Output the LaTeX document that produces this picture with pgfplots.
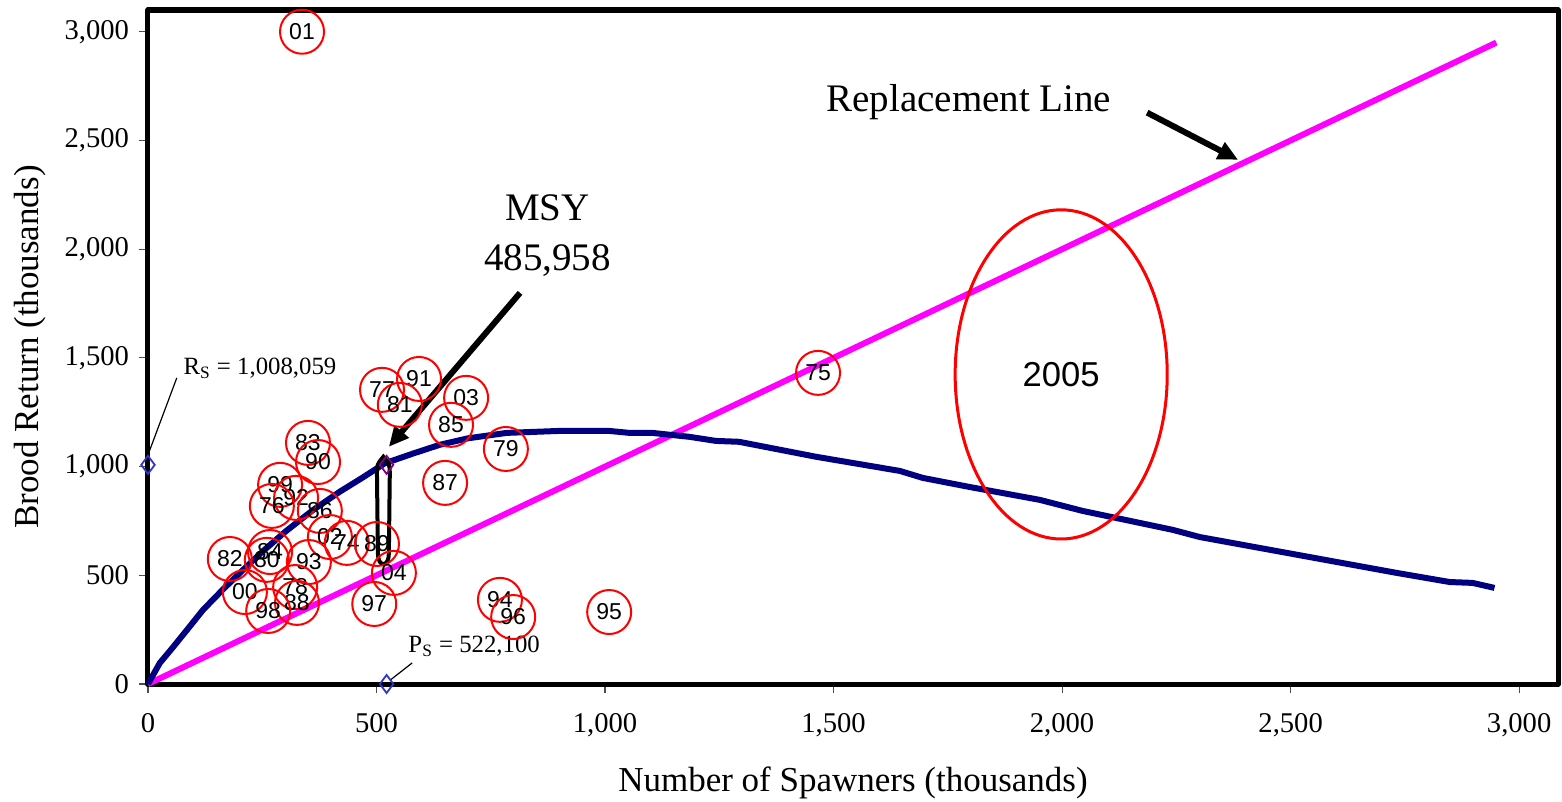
\documentclass[border=0pt]{standalone}
\usepackage{pgfplots}
\pgfplotsset{compat=1.18}
\usepackage{fontspec}
\setmainfont{Liberation Serif}
\newfontfamily\arial{Liberation Sans}
\usetikzlibrary{arrows.meta}
\definecolor{navyline}{RGB}{0,0,128}
\definecolor{magline}{RGB}{255,0,255}
\definecolor{diamblue}{RGB}{51,51,204}
\definecolor{diampurple}{RGB}{128,0,128}

\begin{document}
\begin{tikzpicture}
\begin{axis}[
  scale only axis, width=705pt, height=337pt,
  xmin=0, xmax=3085, ymin=0, ymax=3100,
  xtick={0,500,...,3000}, ytick={0,500,...,3000},
  tick align=outside, xtick pos=bottom, ytick pos=left,
  major tick length=4.5pt,
  tick style={black!70, line width=0.6pt},
  axis line style={line width=2.5pt, line join=round},
  /pgf/number format/assume math mode=true,
  /pgf/number format/1000 sep={,},
  tick label style={font=\fontsize{14.3}{16}\selectfont},
  xticklabel style={yshift=-6.5pt},
  yticklabel style={xshift=-1.5pt},
  xlabel={Number of Spawners (thousands)},
  ylabel={Brood Return (thousands)},
  label style={font=\fontsize{17.5}{20}\selectfont},
  xlabel style={at={(axis description cs:0.5,-0.1602)}, anchor=base},
  ylabel style={at={(axis description cs:-0.078,0.5)}, anchor=base},
  clip=false,
]
% brood years: spawners vs return
\addplot[only marks, mark=o, mark size=11pt, red,
  mark options={line width=1pt},
  point meta=explicit symbolic, nodes near coords,
  nodes near coords style={anchor=center, inner sep=0pt, text=black,
    font=\arial\fontsize{11.5}{11.5}\selectfont}]
coordinates {
  (337,3000) [01]
  (512,1353) [77]
  (593,1403) [91]
  (551,1284) [81]
  (696,1316) [03]
  (663,1192) [85]
  (350,1109) [83]
  (372,1021) [90]
  (783,1081) [79]
  (650,925)  [87]
  (289,916)  [99]
  (324,856)  [92]
  (271,819)  [76]
  (376,796)  [86]
  (398,676)  [02]
  (435,649)  [74]
  (501,644)  [89]
  (179,575)  [82]
  (267,607)  [84]
  (260,571)  [80]
  (352,561)  [93]
  (538,511)  [04]
  (322,446)  [78]
  (212,423)  [00]
  (326,373)  [88]
  (263,336)  [98]
  (495,368)  [97]
  (770,387)  [94]
  (799,308)  [96]
  (1009,331) [95]
  (1466,1431) [75]
};

% replacement line
\addplot[magline, line width=3pt] coordinates {
  (0,0) (500,500) (1000,1000) (1500,1500) (2000,2000) (2500,2500) (2950,2950)
};

% Ricker curve
\addplot[navyline, line width=3pt, line join=round] coordinates {
  (0,0) (26,97) (55,170) (85,248) (120,340) (164,435) (208,525) (251,610)
  (300,700) (361,800) (420,885) (470,950) (518,1015) (580,1060) (638,1100)
  (700,1130) (785,1155) (900,1164) (1009,1164) (1053,1155) (1103,1155)
  (1184,1137) (1243,1118) (1293,1114) (1462,1045) (1645,980) (1695,948)
  (1798,906) (1951,847) (2045,796) (2242,709) (2301,676) (2732,511)
  (2848,469) (2898,465) (2946,442)
};

\addplot[only marks, mark=diamond, mark size=4.5pt, diamblue, line width=0.9pt]
  coordinates {(0,1008) (522,0)};
\addplot[only marks, mark=diamond, mark size=4.5pt, diampurple, line width=0.9pt]
  coordinates {(522,1008)};

% annotations
\node[anchor=base, font=\fontsize{19.5}{20}\selectfont] at (axis cs:1796,2632) {Replacement Line};
\draw[line width=3pt, -{Triangle[length=10pt,width=9pt]}] (axis cs:2186,2628) -- (axis cs:2385,2411);

\node[anchor=base, font=\fontsize{19.5}{20}\selectfont] at (axis cs:874,2131) {MSY};
\node[anchor=base, font=\fontsize{19.5}{20}\selectfont] at (axis cs:874,1902) {485,958};
\draw[line width=3pt, -{Triangle[length=10pt,width=9pt]}] (axis cs:814,1799) -- (axis cs:527,1091);

\draw[line width=2pt] (axis cs:515,1045) .. controls (axis cs:529,1010) .. (axis cs:529,960)
  -- (axis cs:527,600) .. controls (axis cs:527,535) and (axis cs:503,535) .. (axis cs:503,600)
  -- (axis cs:501,960) .. controls (axis cs:501,1010) .. (axis cs:515,1045) -- cycle;

\draw[red, line width=1.5pt] (axis cs:1998,1424) ellipse [x radius=232, y radius=757];
\node[anchor=base, font=\arial\fontsize{17.3}{18}\selectfont] at (axis cs:1998,1367) {2005};

\node[anchor=base west, inner sep=0pt, font=\fontsize{12.4}{13}\selectfont] at (axis cs:77,1422) {R\textsubscript{S} = 1,008,059};
\draw[line width=0.6pt] (axis cs:0,1054) -- (axis cs:63,1408);
\node[anchor=base west, inner sep=0pt, font=\fontsize{12.4}{13}\selectfont] at (axis cs:569,143) {P\textsubscript{S} = 522,100};
\draw[line width=0.6pt] (axis cs:530,18) -- (axis cs:578,97);

\coordinate (bl) at (rel axis cs:0,0);
\coordinate (tr) at (rel axis cs:1,1);
\end{axis}
\pgfresetboundingbox
\path[use as bounding box] ([xshift=-74pt,yshift=-59pt]bl) rectangle ([xshift=2pt,yshift=5pt]tr);
\end{tikzpicture}
\end{document}
